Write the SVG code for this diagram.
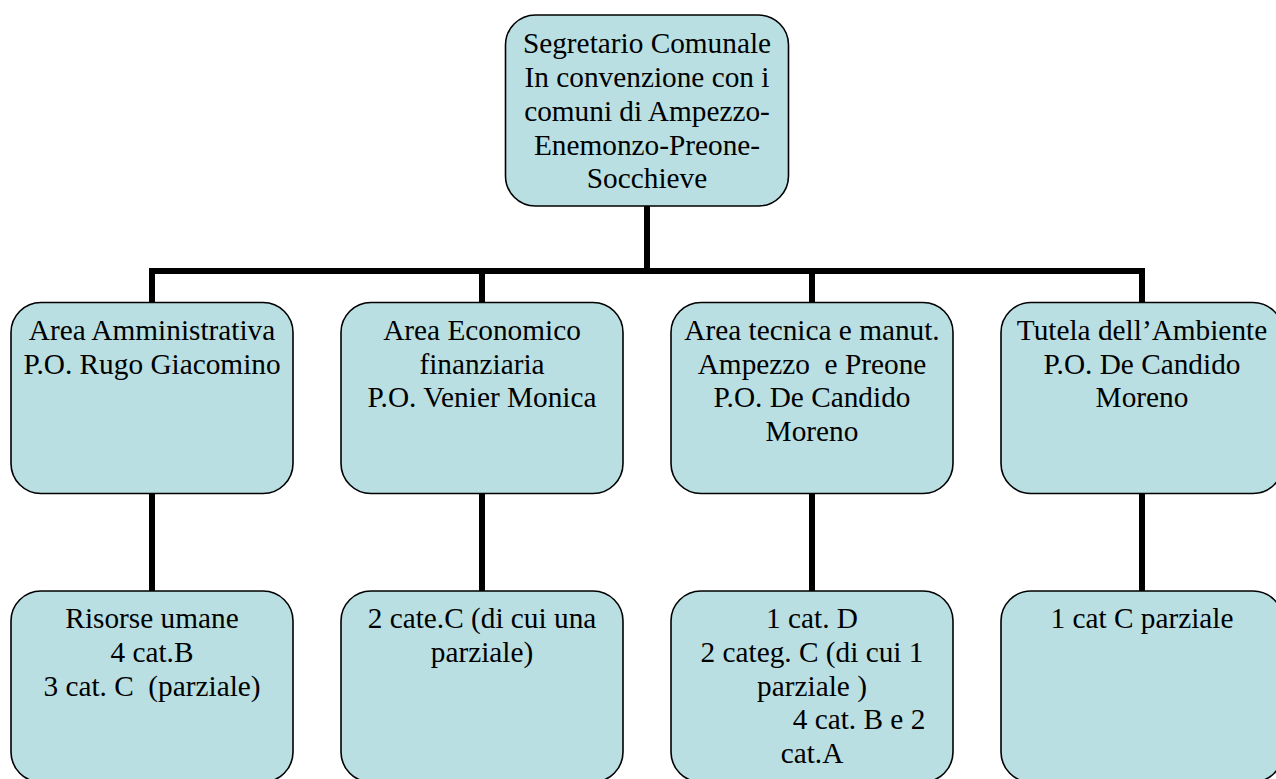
<svg xmlns="http://www.w3.org/2000/svg" width="1276" height="779" viewBox="0 0 1276 779">
<style>
.box{fill:#b9dfe3;stroke:#000;stroke-width:1.6}
.t{font-family:"Liberation Serif","Times New Roman",serif;font-size:29.3px;fill:#000;text-anchor:middle}
.c{fill:none;stroke:#000;stroke-width:6;stroke-linejoin:miter}
</style>
<rect width="1276" height="779" fill="#fff"/>
<g id="connectors">
<path class="c" d="M647 206 V271 M152 305 V271 H1142 V305"/>
<path class="c" d="M482 271 V305 M812 271 V305"/>
<path class="c" d="M152 493 V592 M482 493 V592 M812 493 V592 M1142 493 V592"/>
</g>
<g id="n-segretario">
<rect class="box" x="505.5" y="15" width="283" height="191" rx="30"/>
<text class="t"><tspan x="647" y="53">Segretario Comunale</tspan><tspan x="647" y="87">In convenzione con i</tspan><tspan x="647" y="121">comuni di Ampezzo-</tspan><tspan x="647" y="154.5">Enemonzo-Preone-</tspan><tspan x="647" y="188">Socchieve</tspan></text>
</g>
<g id="n-amministrativa">
<rect class="box" x="11" y="302.5" width="282" height="191" rx="30"/>
<text class="t"><tspan x="152" y="340">Area Amministrativa</tspan><tspan x="152" y="373.5">P.O. Rugo Giacomino</tspan></text>
</g>
<g id="n-economico">
<rect class="box" x="341" y="302.5" width="282" height="191" rx="30"/>
<text class="t"><tspan x="482" y="340">Area Economico</tspan><tspan x="482" y="373.5">finanziaria</tspan><tspan x="482" y="407">P.O. Venier Monica</tspan></text>
</g>
<g id="n-tecnica">
<rect class="box" x="671" y="302.5" width="282" height="191" rx="30"/>
<text class="t"><tspan x="812" y="340">Area tecnica e manut.</tspan><tspan x="812" y="373.5" xml:space="preserve">Ampezzo  e Preone</tspan><tspan x="812" y="407">P.O. De Candido</tspan><tspan x="812" y="440.5">Moreno</tspan></text>
</g>
<g id="n-ambiente">
<rect class="box" x="1001" y="302.5" width="282" height="191" rx="30"/>
<text class="t"><tspan x="1142" y="340">Tutela dell’Ambiente</tspan><tspan x="1142" y="373.5">P.O. De Candido</tspan><tspan x="1142" y="407">Moreno</tspan></text>
</g>
<g id="n-risorse">
<rect class="box" x="11" y="591" width="282" height="191" rx="30"/>
<text class="t"><tspan x="152" y="628">Risorse umane</tspan><tspan x="152" y="662">4 cat.B</tspan><tspan x="152" y="695.5" xml:space="preserve">3 cat. C  (parziale)</tspan></text>
</g>
<g id="n-cate-c">
<rect class="box" x="341" y="591" width="282" height="191" rx="30"/>
<text class="t"><tspan x="482" y="628">2 cate.C (di cui una</tspan><tspan x="482" y="662">parziale)</tspan></text>
</g>
<g id="n-cat-d">
<rect class="box" x="671" y="591" width="282" height="191" rx="30"/>
<text class="t"><tspan x="812" y="628">1 cat. D</tspan><tspan x="812" y="662">2 categ. C (di cui 1</tspan><tspan x="812" y="695.5">parziale )</tspan><tspan x="859" y="729">4 cat. B e 2</tspan><tspan x="812" y="762.5">cat.A</tspan></text>
</g>
<g id="n-cat-c-parziale">
<rect class="box" x="1001" y="591" width="282" height="191" rx="30"/>
<text class="t"><tspan x="1142" y="628">1 cat C parziale</tspan></text>
</g>
</svg>
